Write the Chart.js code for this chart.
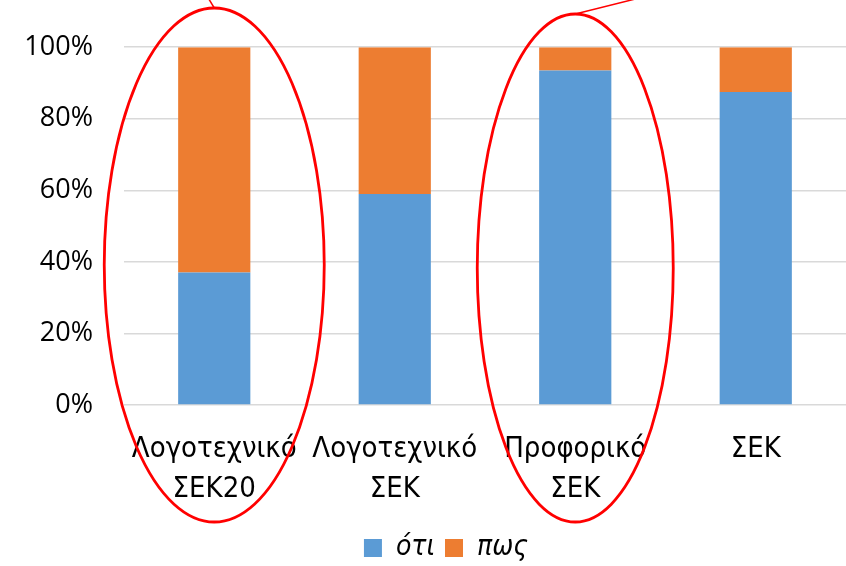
<!DOCTYPE html>
<html>
<head>
<meta charset="utf-8">
<script src="https://cdn.jsdelivr.net/npm/chart.js@4/dist/chart.umd.min.js"></script>
<style>
  html, body { margin: 0; padding: 0; background: #fff; }
  #wrap { width: 846px; height: 566px; position: relative; }
</style>
</head>
<body>
<div id="wrap"><canvas id="chart"></canvas></div>
<script>
// categories and values (percent of each bar)
const categories = [['Λογοτεχνικό', 'ΣΕΚ20'], ['Λογοτεχνικό', 'ΣΕΚ'], ['Προφορικό', 'ΣΕΚ'], 'ΣΕΚ'];
const otiValues = [37, 59, 93.5, 87.5];
const posValues = [63, 41, 6.5, 12.5];
const yTicks = [0, 20, 40, 60, 80, 100];
// categories circled in red
const circled = [0, 2];

const BLUE = '#5B9BD5';
const ORANGE = '#ED7D31';

// red hand-drawn style ellipses around the circled categories
const ellipsePlugin = {
  id: 'ellipses',
  afterLayout(chart) {
    // legend sits a bit right of the canvas centre in the original
    if (chart.legend) {
      chart.legend.left += 23;
      chart.legend.right += 23;
    }
  },
  afterDraw(chart) {
    const ctx = chart.ctx;
    const x = chart.scales.x;
    const shapes = [
      { rx: 110, ry: 257, cy: 265, tail: [-6, -10] },
      { rx: 98, ry: 254, cy: 268, tail: [64, -16] }
    ];
    ctx.save();
    ctx.strokeStyle = '#FF0000';
    circled.forEach((idx, i) => {
      const s = shapes[i];
      const cx = x.getPixelForValue(idx);
      ctx.lineWidth = 2.8;
      ctx.beginPath();
      ctx.ellipse(cx, s.cy, s.rx, s.ry, 0, 0, Math.PI * 2);
      ctx.stroke();
      ctx.lineWidth = 1.5;
      ctx.beginPath();
      ctx.moveTo(cx, s.cy - s.ry);
      ctx.lineTo(cx + s.tail[0], s.cy - s.ry + s.tail[1]);
      ctx.stroke();
    });
    ctx.restore();
  }
};

new Chart(document.getElementById('chart'), {
  type: 'bar',
  data: {
    labels: categories,
    datasets: [
      { label: 'ότι', data: otiValues, backgroundColor: BLUE },
      { label: 'πως', data: posValues, backgroundColor: ORANGE }
    ]
  },
  options: {
    responsive: true,
    maintainAspectRatio: false,
    animation: false,
    datasets: { bar: { categoryPercentage: 1, barPercentage: 0.4 } },
    layout: { padding: { top: 47, right: 0, left: 0, bottom: 0 } },
    scales: {
      x: {
        stacked: true,
        grid: { display: false, drawTicks: false },
        border: { display: false },
        afterFit: s => { s.height = 119; },
        ticks: {
          color: '#000',
          padding: 24,
          maxRotation: 0,
          autoSkip: false,
          font: { family: '"DejaVu Sans Condensed", sans-serif', size: 29, lineHeight: 1.38 }
        }
      },
      y: {
        stacked: true,
        min: 0,
        max: 100,
        afterFit: s => { s.width = 124; },
        afterBuildTicks: s => { s.ticks = yTicks.map(v => ({ value: v })); },
        grid: { color: '#D9D9D9', lineWidth: 1.5, drawTicks: false },
        border: { display: false },
        ticks: {
          color: '#000',
          padding: 31,
          callback: v => v + '%',
          font: { family: '"Open Sans", sans-serif', size: 27 }
        }
      }
    },
    plugins: {
      legend: {
        position: 'bottom',
        maxHeight: 42,
        labels: {
          color: '#000',
          boxWidth: 18,
          boxHeight: 18,
          padding: 10,
          font: { family: '"DejaVu Sans Condensed", sans-serif', size: 28, style: 'italic' }
        }
      },
      tooltip: { enabled: false }
    }
  },
  plugins: [ellipsePlugin]
});
</script>
</body>
</html>
